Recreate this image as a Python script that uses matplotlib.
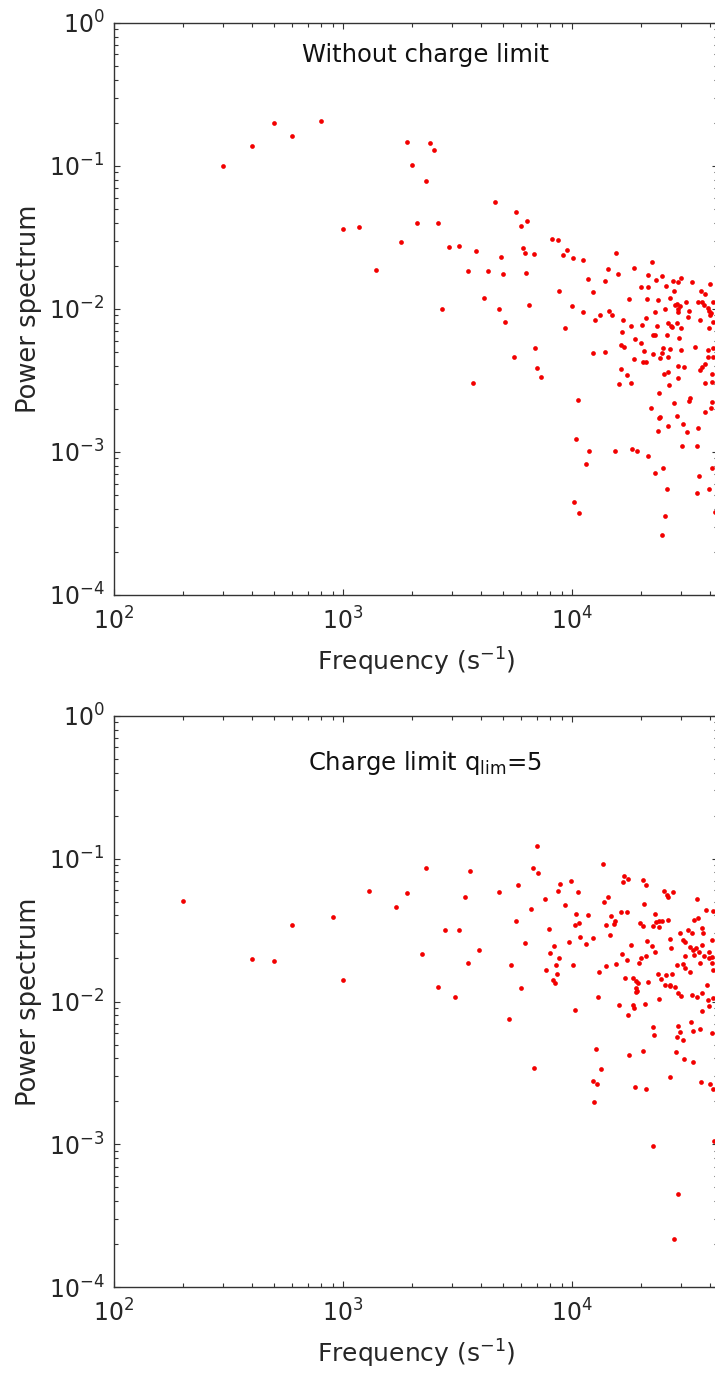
import numpy as np
import matplotlib
matplotlib.use("Agg")
import matplotlib.pyplot as plt
from matplotlib.ticker import LogLocator, NullFormatter

# ---- data (frequency in 1/s, power spectrum) ----
top_freq = [300, 400, 500, 600, 800, 1000, 1180, 1900, 2400, 2500, 2010, 2300,
            4590, 5710, 6380, 6010, 2100, 2610, 1400, 1800, 2900, 3210, 3810, 3510,
            4300, 4890, 5000, 4110, 2700, 4820, 5120, 6100, 6220, 6820, 6300, 6490,
            8200, 8710, 9510, 9100, 10090, 11130, 8810, 10000, 9290, 11720, 12310, 11220,
            12600, 13240, 14490, 14990, 13930, 14310, 15600, 15920, 16640, 18700, 18150, 20000,
            21530, 22420, 21530, 23270, 24800, 17740, 21340, 23660, 20140, 21020, 23010, 23430,
            25640, 26860, 25530, 27680, 29000, 29800, 28000, 28660, 29640, 29130, 31470, 32540,
            32000, 33420, 36450, 37960, 39900, 35630, 36800, 37800, 39400, 39600, 41400, 40400,
            27040, 28660, 29920, 36200, 40100, 41400, 39600, 28200, 28900,
            5600, 6920, 7010, 7300, 3710, 10590, 10380, 10200, 10700, 11510, 11900, 12400,
            13940, 15400, 16500, 16360, 16810, 16300, 16030, 17380, 18110, 18600, 18900, 20000,
            20600, 20420, 20990, 22500, 23000, 22500, 24150, 24800, 25050, 26090, 26200, 27250,
            26360, 26800, 25240, 26360, 26620, 23990, 22100, 24000, 24300, 23660, 23000, 25050,
            25900, 25400, 24730, 18280, 19160, 21380, 26200, 27800, 28750, 28930, 30800, 28930,
            30000, 29300, 30430, 31770, 32530, 32870, 30100, 35160, 35400, 34530, 37960, 36330,
            36800, 39080, 39080, 41400, 41400, 41000, 41000, 38200, 38100, 40440, 40700, 35900,
            35270, 39630, 40730, 42000]
top_power = [0.100, 0.137, 0.198, 0.161, 0.207, 0.036, 0.0376, 0.146, 0.145, 0.128, 0.102, 0.078,
             0.0556, 0.0475, 0.0411, 0.0378, 0.0397, 0.0400, 0.0187, 0.0292, 0.0269, 0.0274, 0.0255, 0.0185,
             0.0184, 0.0229, 0.0176, 0.0120, 0.0100, 0.0099, 0.0081, 0.0265, 0.0245, 0.0240, 0.0177, 0.0107,
             0.0308, 0.0303, 0.0259, 0.0239, 0.0228, 0.0220, 0.0133, 0.0104, 0.0074, 0.0161, 0.0132, 0.0095,
             0.0084, 0.0091, 0.0097, 0.0091, 0.0157, 0.0191, 0.0246, 0.0175, 0.0084, 0.0194, 0.0076, 0.0142,
             0.0143, 0.0213, 0.0173, 0.0159, 0.0169, 0.0117, 0.0117, 0.0115, 0.0077, 0.0087, 0.0095, 0.0076,
             0.0144, 0.0120, 0.0100, 0.0157, 0.0155, 0.0164, 0.0133, 0.0108, 0.0105, 0.0095, 0.0112, 0.0097,
             0.0088, 0.0153, 0.0134, 0.0126, 0.0149, 0.0111, 0.0112, 0.0106, 0.0101, 0.0096, 0.0112, 0.0093,
             0.0076, 0.0079, 0.0073, 0.0083, 0.0091, 0.0081, 0.0074, 0.0107, 0.0100,
             0.00461, 0.00533, 0.00386, 0.00334, 0.00302, 0.00231, 0.00124, 0.000447, 0.000377, 0.000828, 0.00102, 0.00492,
             0.00498, 0.00102, 0.00686, 0.0056, 0.00545, 0.00378, 0.00299, 0.00347, 0.00303, 0.00449, 0.00613, 0.0058,
             0.00506, 0.00426, 0.00426, 0.0066, 0.0066, 0.00482, 0.00454, 0.00494, 0.00536, 0.00657, 0.0080, 0.0075,
             0.00463, 0.00525, 0.00352, 0.00364, 0.00294, 0.0026, 0.00203, 0.00172, 0.00175, 0.00139, 0.00071, 0.00077,
             0.000554, 0.000359, 0.000263, 0.00105, 0.00102, 0.00094, 0.00152, 0.00221, 0.00179, 0.0040, 0.00394, 0.0033,
             0.00516, 0.0063, 0.00156, 0.00137, 0.00228, 0.00239, 0.0011, 0.0011, 0.00147, 0.00544, 0.00412, 0.00374,
             0.00394, 0.00516, 0.00459, 0.0053, 0.0046, 0.00349, 0.00309, 0.00303, 0.00191, 0.00202, 0.00225, 0.00068,
             0.000514, 0.000548, 0.00077, 0.000383]

bot_freq = [200, 400, 500, 600, 900, 1000, 1300, 1700, 1900, 2300, 2210, 2610,
            2800, 3210, 3090, 3410, 3600, 3510, 3920, 4800, 5810, 5690, 5400, 6210,
            6600, 6010, 6730, 7020, 7110, 7610, 7910, 7730, 8020, 8320, 8240, 8400,
            8510, 8630, 8810, 8730, 8900, 9290, 9900, 10630, 10450, 10300, 10690, 9720,
            10090, 10830, 11510, 11780, 12390, 13160, 14030, 13700, 13800, 14320, 14130, 14760,
            15250, 15400, 14590, 15560, 16400, 17330, 16640, 16940, 17500, 16480, 17100, 17380,
            18150, 18450, 18960, 19410, 19100, 18960, 19860, 20340, 20480, 20990, 20700, 19690,
            20000, 21020, 21330, 22300, 21530, 22480, 23270, 24070, 24620, 23980, 23120, 25300,
            26080, 26340, 27540, 26250, 23000, 23660, 24470, 25800, 26800, 27250, 28660, 26690,
            26940, 29630, 30640, 31180, 32230, 33340, 34230, 35050, 35640, 36820, 37430, 38450,
            41300, 32730, 33750, 34770, 35830, 34050, 36900, 31200, 39600, 40800, 40800, 30600,
            31200, 32730, 36240, 37830, 39600, 40700, 41400, 35050, 36800, 38700, 41400,
            5290, 6810, 10300, 13030, 12690, 13390, 12310, 12880, 12470, 16110, 17600, 17790,
            18500, 18590, 18770, 19200, 20330, 20800, 21150, 22470, 22740, 22570, 24050, 26680,
            28500, 28650, 29110, 29640, 30430, 30900, 33100, 33680, 36240, 33700, 36480, 39900,
            41400, 36800, 39600, 40700, 41700, 29000, 28000, 29900, 29100, 33270, 39370, 26690,
            28200, 25470]
bot_power = [0.0507, 0.0197, 0.0191, 0.0345, 0.0388, 0.0141, 0.0596, 0.0460, 0.0574, 0.0855, 0.0215, 0.0127,
             0.0316, 0.0316, 0.0108, 0.0540, 0.0822, 0.0185, 0.0229, 0.0584, 0.0657, 0.0364, 0.0179, 0.0258,
             0.0446, 0.0124, 0.0855, 0.123, 0.0793, 0.0519, 0.0320, 0.0167, 0.0220, 0.0245, 0.0141, 0.0135,
             0.0181, 0.0156, 0.0200, 0.0590, 0.0664, 0.0473, 0.0697, 0.0580, 0.0410, 0.0343, 0.0353, 0.0262,
             0.0181, 0.0283, 0.0251, 0.0403, 0.0277, 0.0162, 0.0176, 0.0912, 0.0495, 0.0538, 0.0343, 0.0395,
             0.0349, 0.0368, 0.0292, 0.0182, 0.0421, 0.0421, 0.0686, 0.0759, 0.0720, 0.0214, 0.0146, 0.0195,
             0.0248, 0.0145, 0.0139, 0.0134, 0.0124, 0.0117, 0.0353, 0.0339, 0.0708, 0.0654, 0.0481, 0.0185,
             0.0200, 0.0209, 0.0265, 0.0246, 0.0138, 0.0339, 0.0360, 0.0368, 0.0368, 0.0334, 0.0408, 0.0596,
             0.0553, 0.0541, 0.0580, 0.0374, 0.0222, 0.0156, 0.0143, 0.0153, 0.0130, 0.0157, 0.0180, 0.0274,
             0.0236, 0.0300, 0.0269, 0.0262, 0.0316, 0.0300, 0.0372, 0.0522, 0.0382, 0.0325, 0.0300, 0.0437,
             0.0430, 0.0240, 0.0229, 0.0237, 0.0222, 0.0211, 0.0249, 0.0208, 0.0222, 0.0205, 0.0269, 0.0183,
             0.0171, 0.0162, 0.0185, 0.0208, 0.0200, 0.0185, 0.0166, 0.0108, 0.0114, 0.0130, 0.0105,
             0.0076, 0.00343, 0.0087, 0.0108, 0.00465, 0.00339, 0.00278, 0.00265, 0.00197, 0.0094, 0.0080, 0.00425,
             0.0095, 0.0090, 0.00253, 0.0118, 0.00451, 0.0096, 0.00246, 0.00663, 0.00586, 0.00098, 0.0104, 0.00294,
             0.00443, 0.00567, 0.00677, 0.00615, 0.0054, 0.00398, 0.00715, 0.00618, 0.00638, 0.00377, 0.00272, 0.00263,
             0.00243, 0.0086, 0.0093, 0.00605, 0.00106, 0.000448, 0.000218, 0.0110, 0.0114, 0.0111, 0.0102, 0.0128,
             0.0127, 0.0130]

titles = ["Without charge limit", r"Charge limit q$_{\mathrm{lim}}$=5"]

plt.rcParams['font.family'] = ['DejaVu Sans']
plt.rcParams['mathtext.fontset'] = 'dejavusans'

W, H = 715, 1380
fig = plt.figure(figsize=(W / 100, H / 100), dpi=100)

AXC = '#333333'
x_hi = 10 ** (2 + 604 / 229)   # right edge falls just past the picture


def panel(rect, freq, power, title, title_y):
    ax = fig.add_axes(rect)
    ax.set_xscale('log')
    ax.set_yscale('log')
    ax.plot(freq, power, linestyle='none', marker='o', markersize=3.4,
            markerfacecolor='#f20000', markeredgecolor='none', clip_on=True)
    ax.set_xlim(1e2, x_hi)
    ax.set_ylim(1e-4, 1e0)
    ax.xaxis.set_major_locator(LogLocator(base=10, numticks=10))
    ax.yaxis.set_major_locator(LogLocator(base=10, numticks=10))
    ax.xaxis.set_minor_locator(LogLocator(base=10, subs=np.arange(2, 10), numticks=20))
    ax.yaxis.set_minor_locator(LogLocator(base=10, subs=np.arange(2, 10), numticks=20))
    ax.xaxis.set_minor_formatter(NullFormatter())
    ax.yaxis.set_minor_formatter(NullFormatter())
    for s in ax.spines.values():
        s.set_color(AXC)
        s.set_linewidth(1.0)
    ax.tick_params(which='both', direction='in', top=True, right=True,
                   color=AXC, width=0.8)
    ax.tick_params(which='major', length=4.5, labelsize=17, labelcolor='#262626')
    ax.tick_params(which='minor', length=3.2)
    ax.tick_params(axis='x', which='major', pad=9)
    ax.tick_params(axis='y', which='major', pad=7)
    ax.set_xlabel(r'Frequency (s$^{-1}$)', fontsize=18, color='#262626', labelpad=8)
    ax.set_ylabel('Power spectrum', fontsize=18.5, color='#262626', labelpad=5)
    ax.text(10 ** 3.36, title_y, title, ha='center', va='baseline',
            fontsize=17.5, color='#111111')
    return ax


top = panel([114 / W, 1 - 595 / H, 604 / W, 572.3 / H],
            top_freq, top_power, titles[0], 0.53)
bot = panel([114 / W, 1 - 1287.3 / H, 604 / W, 571.6 / H],
            bot_freq, bot_power, titles[1], 0.417)

fig.savefig('out.png', dpi=100)
